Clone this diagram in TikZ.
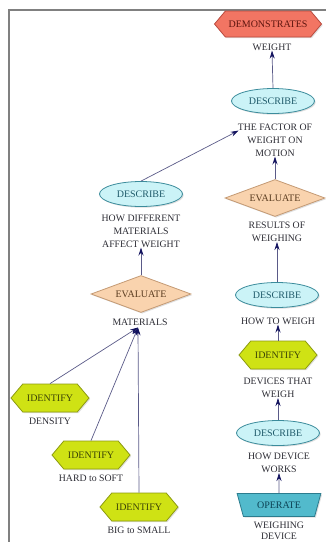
\documentclass[tikz,border=0pt]{standalone}
\usepackage{fontspec}
\setmainfont{Liberation Serif}
\usetikzlibrary{shapes.geometric,shapes.symbols,arrows.meta,calc,shadows}
\definecolor{redfill}{HTML}{F27563}
\definecolor{redline}{HTML}{B84A3E}
\definecolor{redtext}{HTML}{5E150E}
\definecolor{cyanfill}{HTML}{CBF3F7}
\definecolor{cyanline}{HTML}{3C8C9C}
\definecolor{cyantext}{HTML}{1F5A6A}
\definecolor{peachfill}{HTML}{F9D3AE}
\definecolor{peachline}{HTML}{C49A74}
\definecolor{peachtext}{HTML}{5A3C20}
\definecolor{limefill}{HTML}{CFE214}
\definecolor{limeline}{HTML}{8C9A10}
\definecolor{limetext}{HTML}{3C4406}
\definecolor{tealfill}{HTML}{52BACC}
\definecolor{tealline}{HTML}{2C7C8E}
\definecolor{tealtext}{HTML}{0C4254}
\definecolor{labtext}{HTML}{2C2C34}
\definecolor{conn}{HTML}{5A5A88}
\definecolor{tip}{HTML}{12125E}
\definecolor{frame}{HTML}{808080}
\tikzset{
  shad/.style={drop shadow={shadow xshift=1.2pt,shadow yshift=-1.2pt,opacity=0.25}},
  inner/.style={font=\fontsize{10}{12}\selectfont,inner sep=0pt,line width=0.8pt,shad},
  demobox/.style={inner,signal,signal to=east and west,signal pointer angle=100,
    minimum width=107pt,minimum height=26pt,fill=redfill,draw=redline,text=redtext},
  descbox/.style={inner,ellipse,minimum width=83pt,minimum height=25pt,
    fill=cyanfill,draw=cyanline,text=cyantext},
  evalbox/.style={inner,diamond,aspect=2.8,minimum width=100pt,minimum height=37pt,
    fill=peachfill,draw=peachline,text=peachtext},
  identbox/.style={inner,signal,signal to=east and west,signal pointer angle=100,
    minimum width=78pt,minimum height=28pt,fill=limefill,draw=limeline,text=limetext},
  operbox/.style={inner,trapezium,shape border rotate=180,trapezium angle=60,
    trapezium stretches=true,minimum width=84pt,minimum height=23pt,
    fill=tealfill,draw=tealline,text=tealtext},
  lab/.style={font=\fontsize{9.8}{13}\selectfont,align=center,inner sep=0pt,text=labtext},
  link/.style={draw=conn,line width=0.7pt,-{Stealth[length=8pt,width=5pt,color=tip]}}
}
\begin{document}
\begin{tikzpicture}[x=1pt,y=-1pt]
\useasboundingbox (0,0) rectangle (326,542);
\draw[frame,line width=2pt] (9,542) -- (9,10) -- (326,10);
% right column
\node[demobox] (dem) at (268,24) {DEMONSTRATES};
\node[lab] (lweight) at (272,47) {WEIGHT};
\node[descbox] (d1) at (273,101) {DESCRIBE};
\node[lab] (lfactor) at (275,140) {THE FACTOR OF\\WEIGHT ON\\MOTION};
\node[evalbox] (e1) at (275,198) {EVALUATE};
\node[lab] (lresults) at (277,232) {RESULTS OF\\WEIGHING};
\node[descbox] (d2) at (277,295) {DESCRIBE};
\node[lab] (lhow) at (278,321) {HOW TO WEIGH};
\node[identbox] (i1) at (278,355) {IDENTIFY};
\node[lab] (ldev) at (278,388) {DEVICES THAT\\WEIGH};
\node[descbox] (d3) at (278,433) {DESCRIBE};
\node[lab] (lwork) at (279,463) {HOW DEVICE\\WORKS};
\node[operbox] (op) at (279,505) {OPERATE};
\node[lab,font=\fontsize{9.8}{11.5}\selectfont] (lweigh) at (279,531) {WEIGHING\\DEVICE};
% left column
\node[descbox] (d4) at (141,194) {DESCRIBE};
\node[lab] (ldiff) at (141,231) {HOW DIFFERENT\\MATERIALS\\AFFECT WEIGHT};
\node[evalbox] (e2) at (141,294) {EVALUATE};
\node[lab] (lmat) at (140,322) {MATERIALS};
\node[identbox] (i2) at (50,398) {IDENTIFY};
\node[lab] (lden) at (50,421) {DENSITY};
\node[identbox] (i3) at (91,455) {IDENTIFY};
\node[lab] (lhard) at (91,478) {HARD to SOFT};
\node[identbox] (i4) at (139,507) {IDENTIFY};
\node[lab] (lbig) at (139,530) {BIG to SMALL};
\coordinate (fend) at ($(lfactor.north west)+(1,7)$);
\coordinate (mend) at ($(lmat.south)+(-2,2)$);
% connectors
\draw[link] (d1.north) -- (lweight.south);
\draw[link] (e1.north) -- (lfactor.south);
\draw[link] (d2.north) -- (lresults.south);
\draw[link] (i1.north) -- (lhow.south);
\draw[link] (d3.north) -- (ldev.south);
\draw[link] (op.north) -- (lwork.south);
\draw[link] (d4.north) -- (fend);
\draw[link] (e2.north) -- (ldiff.south);
\draw[link] (i2.north) -- (mend);
\draw[link] (i3.north) -- (mend);
\draw[link] (i4.north) -- (mend);
\end{tikzpicture}
\end{document}
